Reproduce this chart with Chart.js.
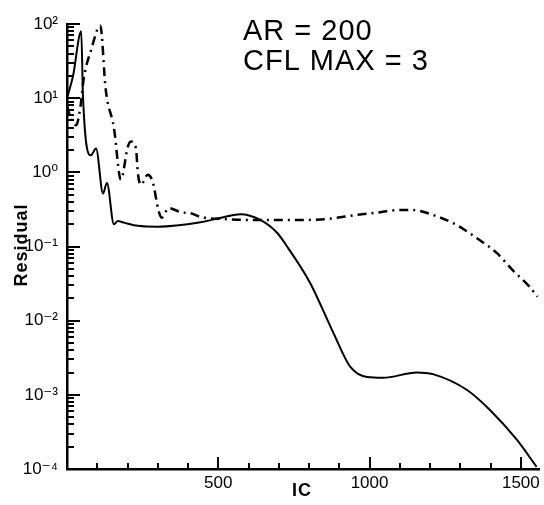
<!DOCTYPE html>
<html>
<head>
<meta charset="utf-8">
<script src="https://cdn.jsdelivr.net/npm/chart.js@4"></script>
<style>
  html, body { margin: 0; padding: 0; background: #fff; }
  #wrap { width: 544px; height: 505px; }
</style>
</head>
<body>
<div id="wrap"><canvas id="myChart"></canvas></div>
<script>
// solid curve
const solidX = [0, 20, 47, 53, 79, 96, 119, 132, 155, 168, 188, 234, 300, 441, 520, 573, 639, 695, 731, 804, 880, 936, 992, 1045, 1156, 1209, 1321, 1397, 1486, 1552];
const solidY = [10, 20, 80, 10, 1.7, 2.1, 0.52, 0.72, 0.2, 0.22, 0.21, 0.19, 0.185, 0.212, 0.25, 0.272, 0.228, 0.152, 0.095, 0.032, 0.0069, 0.0024, 0.00174, 0.0017, 0.002, 0.0019, 0.00117, 0.00063, 0.00025, 0.000107];

// dash-dot curve
const dashX = [0, 15, 30, 45, 55, 80, 110, 128, 155, 178, 201, 211, 228, 234, 244, 267, 283, 303, 313, 336, 376, 409, 442, 517, 606, 672, 781, 860, 959, 1035, 1100, 1143, 1209, 1288, 1354, 1420, 1473, 1529, 1555];
const dashY = [8, 5, 4.3, 8, 18, 45, 95, 13, 4, 0.8, 2.2, 2.6, 2.1, 1.0, 0.68, 0.93, 0.75, 0.3, 0.245, 0.33, 0.29, 0.28, 0.25, 0.235, 0.228, 0.228, 0.228, 0.235, 0.267, 0.29, 0.31, 0.31, 0.267, 0.195, 0.13, 0.082, 0.048, 0.0286, 0.021];

const xTickValues = [500, 1000, 1500];
const xTickLabels = ['500', '1000', '1500'];
const yTickValues = [1e-4, 1e-3, 1e-2, 1e-1, 1, 10, 100];
const yTickLabels = ['10\u207B\u2074', '10\u207B\u00B3', '10\u207B\u00B2', '10\u207B\u00B9', '10\u2070', '10\u00B9', '10\u00B2'];

function toPoints(xs, ys) {
    return xs.map((x, i) => ({x: x, y: ys[i]}));
}

// tick marks pointing inwards + titles + annotation
const decor = {
    id: 'decor',
    afterDraw(chart) {
        const ctx = chart.ctx;
        const xs = chart.scales.x, ys = chart.scales.y;
        const area = chart.chartArea;
        ctx.save();
        ctx.strokeStyle = '#000';
        ctx.lineWidth = 2;
        ctx.beginPath();
        for (let v = 100; v <= 1500; v += 100) {
            const px = Math.round(xs.getPixelForValue(v));
            const len = v % 500 === 0 ? 12 : 6;
            ctx.moveTo(px, area.bottom);
            ctx.lineTo(px, area.bottom - len);
        }
        for (let k = -4; k <= 2; k++) {
            const base = Math.pow(10, k);
            const py = Math.round(ys.getPixelForValue(base));
            ctx.moveTo(area.left, py);
            ctx.lineTo(area.left + 13, py);
            if (k < 2) {
                for (let m = 2; m <= 9; m++) {
                    const pm = Math.round(ys.getPixelForValue(m * base));
                    ctx.moveTo(area.left, pm);
                    ctx.lineTo(area.left + 7, pm);
                }
            }
        }
        ctx.stroke();

        ctx.fillStyle = '#000';
        ctx.letterSpacing = '1px';
        ctx.font = '29px "Liberation Sans", Arial, sans-serif';
        ctx.textAlign = 'left';
        ctx.textBaseline = 'alphabetic';
        ctx.fillText('AR = 200', 243, 40);
        ctx.fillText('CFL MAX = 3', 243, 70);

        ctx.font = 'bold 18px "Liberation Sans", Arial, sans-serif';
        ctx.textAlign = 'center';
        ctx.textBaseline = 'middle';
        ctx.fillText('IC', 302, 491);
        ctx.translate(22, 245);
        ctx.rotate(-Math.PI / 2);
        ctx.fillText('Residual', 0, 0);
        ctx.restore();
    }
};

const ctx = document.getElementById('myChart').getContext('2d');
const myChart = new Chart(ctx, {
    type: 'line',
    data: {
        datasets: [{
            label: 'solid',
            data: toPoints(solidX, solidY),
            borderColor: '#000',
            borderWidth: 2,
            pointRadius: 0,
            fill: false,
            cubicInterpolationMode: 'monotone'
        }, {
            label: 'dashdot',
            data: toPoints(dashX, dashY),
            borderColor: '#000',
            borderWidth: 2.5,
            borderDash: [9, 5, 2, 5],
            pointRadius: 0,
            fill: false,
            cubicInterpolationMode: 'monotone'
        }]
    },
    options: {
        responsive: true,
        maintainAspectRatio: false,
        animation: false,
        layout: { padding: { top: 24, right: 5, left: 0, bottom: 0 } },
        plugins: {
            legend: { display: false },
            tooltip: { enabled: false }
        },
        scales: {
            x: {
                type: 'linear',
                min: 0,
                max: 1560,
                grid: { display: false, drawTicks: false },
                border: { display: true, color: '#000', width: 2.5 },
                afterBuildTicks: scale => { scale.ticks = xTickValues.map(v => ({value: v})); },
                afterFit: scale => { scale.height = 36; },
                ticks: {
                    padding: 4,
                    color: '#000',
                    font: { family: '"Liberation Sans", Arial, sans-serif', size: 17 },
                    maxRotation: 0,
                    callback: (v) => {
                        const i = xTickValues.indexOf(v);
                        return i >= 0 ? xTickLabels[i] : '';
                    }
                }
            },
            y: {
                type: 'logarithmic',
                min: 1e-4,
                max: 100,
                grid: { display: false, drawTicks: false },
                border: { display: true, color: '#000', width: 2.5 },
                afterBuildTicks: scale => { scale.ticks = yTickValues.map(v => ({value: v})); },
                afterFit: scale => { scale.width = 67; },
                ticks: {
                    padding: 9,
                    color: '#000',
                    font: { family: '"Liberation Sans", "DejaVu Sans", sans-serif', size: 17 },
                    callback: (v) => {
                        const i = yTickValues.findIndex(t => Math.abs(Math.log10(t) - Math.log10(v)) < 1e-6);
                        return i >= 0 ? yTickLabels[i] : '';
                    }
                }
            }
        }
    },
    plugins: [decor]
});
</script>
</body>
</html>
